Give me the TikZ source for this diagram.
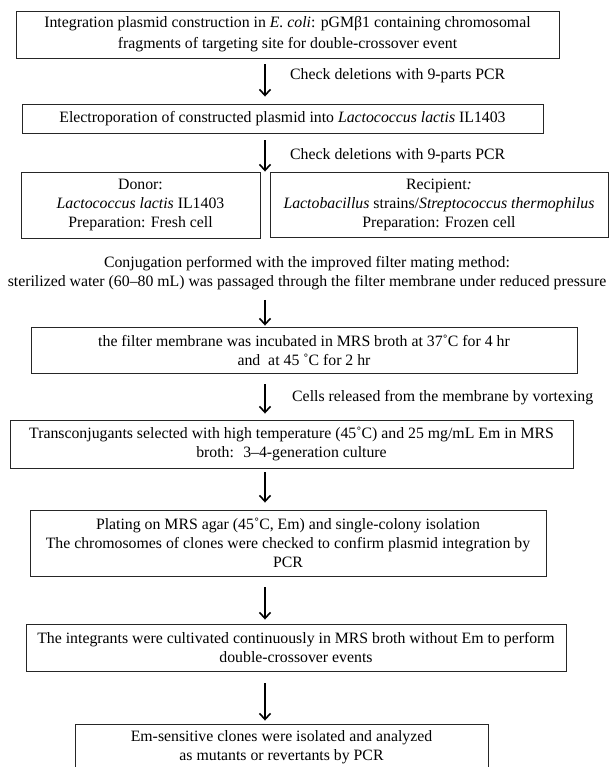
\documentclass[tikz,border=0pt]{standalone}
\usepackage{fontspec}
\setmainfont{Liberation Serif}
\usetikzlibrary{arrows.meta}
\begin{document}
\begin{tikzpicture}[x=1pt,y=-1pt,
  box/.style={draw=black!85, line width=0.9pt, align=center, inner sep=0pt, font=\fontsize{15.8}{19}\selectfont},
  txt/.style={align=center, inner sep=0pt, font=\fontsize{15.8}{19}\selectfont},
  lbl/.style={anchor=west, inner sep=0pt, font=\fontsize{15.8}{19}\selectfont},
  arr/.style={line width=1.6pt, -{Straight Barb[length=6pt,width=11pt,line width=1.6pt]}}]
\useasboundingbox (0,0) rectangle (614,767);
\clip (0,0) rectangle (614,767);
\coordinate (ax) at (265,0);

\node[box, minimum width=543pt, minimum height=47pt, font=\fontsize{15.8}{21}\selectfont] (b1) at (287.5,34.5)
  {Integration plasmid construction in \textit{E. coli}: pGMβ1 containing chromosomal\\fragments of targeting site for double-crossover event};
\node[box, minimum width=521pt, minimum height=29pt] (b2) at (282.5,118.5)
  {Electroporation of constructed plasmid into \textit{Lactococcus lactis} IL1403};
\node[box, minimum width=239pt, minimum height=66pt] (donor) at (140.5,205)
  {Donor:\\\textit{Lactococcus lactis} IL1403\\Preparation: Fresh cell};
\node[box, minimum width=338pt, minimum height=65pt] (recip) at (439,204.5)
  {Recipient\textit{:}\\\textit{Lactobacillus} strains/\textit{Streptococcus thermophilus}\\Preparation: Frozen cell};
\node[txt] (conj) at (307,273)
  {Conjugation performed with the improved filter mating method:\\sterilized water (60–80 mL) was passaged through the filter membrane under reduced pressure};
\node[box, minimum width=546pt, minimum height=46pt] (b4) at (304,350)
  {the filter membrane was incubated in MRS broth at 37˚C for 4 hr\\and~ at 45 ˚C for 2 hr};
\node[box, minimum width=563pt, minimum height=48pt] (b5) at (291.5,444)
  {Transconjugants selected with high temperature (45˚C) and 25 mg/mL Em in MRS\\broth:~ 3–4-generation culture};
\node[box, minimum width=516pt, minimum height=66pt] (b6) at (288,543)
  {Plating on MRS agar (45˚C, Em) and single-colony isolation\\The chromosomes of clones were checked to confirm plasmid integration by\\PCR};
\node[box, minimum width=540pt, minimum height=47pt] (b7) at (296,647.5)
  {The integrants were cultivated continuously in MRS broth without Em to perform\\double-crossover events};
\node[box, minimum width=413pt, minimum height=46pt] (b8) at (281.5,747)
  {Em-sensitive clones were isolated and analyzed\\as mutants or revertants by PCR};

\node[lbl] (l1) at (290,76) {Check deletions with 9-parts PCR};
\node[lbl] (l2) at (290,156) {Check deletions with 9-parts PCR};
\node[lbl] (l4) at (292,398) {Cells released from the membrane by vortexing};

\draw[arr] ([yshift=-6pt]b1.south -| ax) -- ([yshift=7pt]b2.north -| ax);
\draw[arr] ([yshift=-7pt]b2.south -| ax) -- (donor.north -| ax);
\draw[arr] ([yshift=-10pt]conj.south -| ax) -- ([yshift=1pt]b4.north -| ax);
\draw[arr] ([yshift=-11pt]b4.south -| ax) -- ([yshift=6pt]b5.north -| ax);
\draw[arr] ([yshift=-4pt]b5.south -| ax) -- ([yshift=7pt]b6.north -| ax);
\draw[arr] ([yshift=-11pt]b6.south -| ax) -- ([yshift=4pt]b7.north -| ax);
\draw[arr] ([yshift=-12pt]b7.south -| ax) -- ([yshift=3pt]b8.north -| ax);
\end{tikzpicture}
\end{document}
